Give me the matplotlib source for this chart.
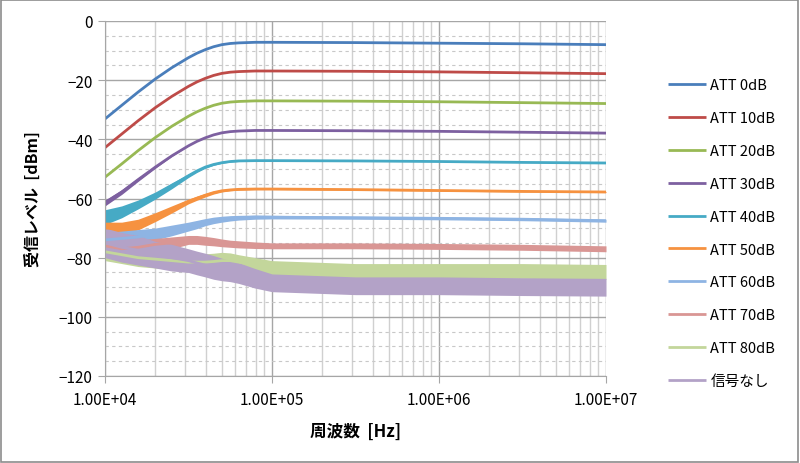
import numpy as np
import matplotlib
matplotlib.use('Agg')
import matplotlib.pyplot as plt
from matplotlib.patches import Rectangle
from matplotlib.ticker import LogLocator, MultipleLocator, NullFormatter

plt.rcParams['font.family'] = ['Noto Sans CJK JP', 'DejaVu Sans']

# ── data ──────────────────────────────────────────────────────────────────────
freq = [1.0e4, 1.26e4, 1.58e4, 2.0e4, 2.51e4, 3.16e4, 3.55e4, 3.98e4, 4.47e4,
        5.01e4, 5.62e4, 6.31e4, 7.94e4, 1.0e5, 3.16e5, 1.0e6, 3.16e6, 1.0e7]

labels = ['ATT 0dB', 'ATT 10dB', 'ATT 20dB', 'ATT 30dB', 'ATT 40dB',
          'ATT 50dB', 'ATT 60dB', 'ATT 70dB', 'ATT 80dB', '信号なし']

att0  = [-33.1, -28.5, -24.0, -19.6, -15.8, -12.4, -10.9, -9.7, -8.7,
         -8.0, -7.6, -7.4, -7.2, -7.2, -7.3, -7.5, -7.7, -8.0]
att10 = [-42.8, -38.2, -33.7, -29.3, -25.5, -22.1, -20.6, -19.4, -18.4,
         -17.7, -17.3, -17.1, -16.9, -16.9, -17.0, -17.2, -17.5, -17.8]
att20 = [-52.8, -48.3, -43.8, -39.4, -35.6, -32.2, -30.7, -29.5, -28.5,
         -27.8, -27.4, -27.2, -27.0, -27.0, -27.1, -27.3, -27.6, -27.9]
att30 = [-61.5, -57.8, -53.6, -49.4, -45.6, -42.2, -40.7, -39.5, -38.5,
         -37.8, -37.4, -37.2, -37.0, -37.0, -37.1, -37.3, -37.6, -37.9]
att40 = [-66.3, -64.5, -62.0, -59.0, -55.7, -52.3, -50.7, -49.4, -48.5,
         -47.9, -47.5, -47.3, -47.2, -47.2, -47.3, -47.5, -47.8, -48.0]
att50 = [-70.0, -70.0, -68.8, -66.3, -63.7, -61.0, -59.9, -58.9, -58.0,
         -57.4, -57.1, -56.9, -56.8, -56.8, -57.0, -57.3, -57.6, -57.8]
att60 = [-74.0, -73.5, -73.0, -72.0, -70.8, -69.5, -68.8, -68.0, -67.4,
         -67.0, -66.7, -66.5, -66.3, -66.3, -66.5, -66.7, -67.0, -67.5]
att70 = [-76.0, -77.0, -76.5, -75.5, -75.0, -74.0, -74.0, -74.3, -74.6,
         -75.0, -75.3, -75.5, -75.8, -76.0, -76.0, -76.2, -76.5, -77.0]
att80 = [-78.0, -79.0, -80.0, -80.5, -81.0, -81.5, -81.5, -81.5, -81.3,
         -81.0, -81.0, -81.5, -82.5, -83.5, -84.5, -84.5, -84.5, -84.8]
nosig = [-75.0, -76.5, -77.5, -79.0, -80.0, -81.0, -81.8, -82.5, -83.3,
         -84.0, -84.5, -85.2, -87.0, -88.5, -89.5, -89.5, -89.8, -90.0]

# half width of the noise band around each trace (dB)
noise0  = [0.0] * 18
noise30 = [1.0, 0.8, 0.6, 0.4, 0.2, 0.0, 0.0, 0.0, 0.0,
           0.0, 0.0, 0.0, 0.0, 0.0, 0.0, 0.0, 0.0, 0.0]
noise40 = [2.5, 2.0, 1.5, 1.2, 1.0, 0.6, 0.5, 0.4, 0.3,
           0.2, 0.2, 0.2, 0.0, 0.0, 0.0, 0.0, 0.0, 0.0]
noise50 = [2.0, 2.0, 1.8, 1.5, 1.2, 0.8, 0.7, 0.6, 0.5,
           0.4, 0.3, 0.3, 0.2, 0.2, 0.2, 0.2, 0.2, 0.2]
noise60 = [2.5, 2.5, 2.5, 2.0, 1.8, 1.5, 1.4, 1.2, 1.1,
           1.0, 0.9, 0.8, 0.7, 0.6, 0.5, 0.5, 0.5, 0.5]
noise70 = [2.5, 2.5, 2.5, 2.0, 2.0, 1.5, 1.5, 1.5, 1.4,
           1.3, 1.2, 1.2, 1.1, 1.0, 1.0, 1.0, 1.0, 1.0]
noise80 = [3.0, 3.0, 3.0, 3.0, 3.0, 3.0, 3.0, 2.8, 2.8,
           2.8, 2.6, 2.5, 2.5, 2.5, 2.5, 2.5, 2.5, 2.5]
noisen  = [5.0, 5.0, 5.0, 4.5, 4.5, 4.0, 4.0, 4.0, 4.0,
           3.8, 3.6, 3.5, 3.3, 3.0, 3.0, 3.0, 3.0, 3.0]

series = [att0, att10, att20, att30, att40, att50, att60, att70, att80, nosig]
noises = [noise0, noise0, noise0, noise30, noise40, noise50, noise60, noise70, noise80, noisen]
colors = ['#4A7EBB', '#BE4B48', '#98B954', '#7D60A0', '#46AAC5',
          '#F69240', '#8EB4E3', '#D99694', '#C3D69B', '#B3A2C7']

# ── figure ────────────────────────────────────────────────────────────────────
fig = plt.figure(figsize=(8.0, 4.64), dpi=100)
ax = fig.add_axes([105 / 800, 1 - 377 / 464, 501 / 800, 355 / 464])

f = np.array(freq)
for y, n, c, lab in zip(series, noises, colors, labels):
    y = np.array(y)
    n = np.array(n)
    if n.max() > 0:
        ax.fill_between(f, y - n, y + n, color=c, lw=0)
    ax.plot(f, y, color=c, lw=2.0, label=lab, solid_capstyle='butt')

ax.set_xscale('log')
ax.set_xlim(1e4, 1e7)
ax.set_ylim(-120, 0)
ax.xaxis.set_minor_locator(LogLocator(base=10, subs=np.arange(2, 10), numticks=20))
ax.xaxis.set_minor_formatter(NullFormatter())
ax.set_xticks([1e4, 1e5, 1e6, 1e7])
ax.set_xticklabels(['1.00E+04', '1.00E+05', '1.00E+06', '1.00E+07'])
ax.yaxis.set_major_locator(MultipleLocator(20))
ax.yaxis.set_minor_locator(MultipleLocator(5))

ax.grid(True, which='major', axis='both', color='#A6A6A6', lw=1.0)
ax.grid(True, which='minor', axis='x', color='#D0D0D0', lw=1.0)
ax.grid(True, which='minor', axis='y', color='#C8C8C8', lw=0.8, ls=(0, (3, 3)))
ax.set_axisbelow(True)

for s in ['top', 'right']:
    ax.spines[s].set_visible(False)
for s in ['left', 'bottom']:
    ax.spines[s].set_color('#A6A6A6')
ax.tick_params(which='major', direction='out', length=5, color='#A6A6A6',
               labelsize=11, labelcolor='#000000', pad=4)
ax.tick_params(which='minor', length=0)
ax.tick_params(axis='x', pad=6)

ax.set_xlabel('周波数  [Hz]', fontsize=12, fontweight='bold', labelpad=10)
ax.set_ylabel('受信レベル  [dBm]', fontsize=11.5, fontweight='bold', labelpad=13)

fig.legend(loc='upper left', bbox_to_anchor=(668 / 800, 1 - 79.5 / 464),
           frameon=False, fontsize=10.5, handlelength=2.6, handletextpad=0.3,
           labelspacing=1.29, borderpad=0, borderaxespad=0)

# chart border
fig.patches.append(Rectangle((0.001, 0.002), 0.997, 0.996, transform=fig.transFigure,
                             fill=False, edgecolor='#8C8C8C', lw=1.2))

fig.savefig('out.png', dpi=100)
